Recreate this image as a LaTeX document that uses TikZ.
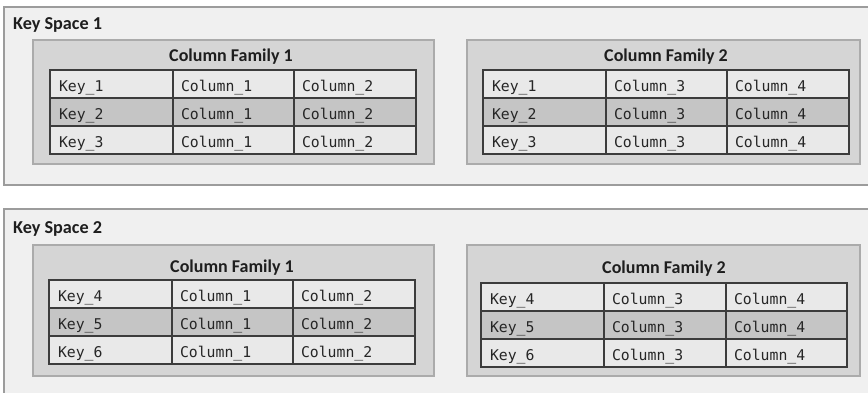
\documentclass[tikz,border=0pt]{standalone}
\usepackage{fontspec}
\setmainfont{Carlito}
\newfontfamily\monof{DejaVu Sans Mono}
\definecolor{ksfill}{HTML}{F0F0F0}
\definecolor{ksdraw}{HTML}{9C9C9C}
\definecolor{cffill}{HTML}{D5D5D5}
\definecolor{cfdraw}{HTML}{ABABAB}
\definecolor{rowlight}{HTML}{E9E9E9}
\definecolor{rowdark}{HTML}{C5C5C5}
\definecolor{gridline}{HTML}{3C3C3C}
\definecolor{txt}{HTML}{1E1E1E}
\definecolor{celltxt}{HTML}{262626}
\tikzset{
  ks/.style={draw=ksdraw, fill=ksfill, line width=1.2pt, inner sep=0, outer sep=0, anchor=north west},
  cf/.style={draw=cfdraw, fill=cffill, line width=1.2pt, inner sep=0, outer sep=0, anchor=north west},
  cell/.style={draw=gridline, line width=1.3pt, inner sep=0, outer sep=0, minimum height=28, anchor=north west},
  celltext/.style={inner sep=0, outer sep=0, anchor=base west, text=celltxt, font=\monof\fontsize{14.8}{16}\selectfont},
  kslabel/.style={inner sep=0, anchor=base west, text=txt, font=\bfseries\fontsize{18.2}{20}\selectfont},
  cftitle/.style={inner sep=0, anchor=base, text=txt, font=\bfseries\fontsize{18}{20}\selectfont}
}
% #1 prefix, #2 left, #3 divider1, #4 divider2, #5 right, #6 top, #7 first key, #8 col A, #9 col B
\newcommand{\kvtab}[9]{%
  \foreach \r in {0,1,2}{%
    \pgfmathtruncatemacro{\kn}{#7+\r}%
    \pgfmathsetmacro{\yy}{#6+28*\r}%
    \ifnum\r=1 \def\rowfill{rowdark}\else\def\rowfill{rowlight}\fi
    \node[cell, fill=\rowfill, minimum width={#3-#2}] (#1a\r) at (#2,\yy) {};
    \node[cell, fill=\rowfill, minimum width={#4-#3}] (#1b\r) at (#3,\yy) {};
    \node[cell, fill=\rowfill, minimum width={#5-#4}] (#1c\r) at (#4,\yy) {};
    \node[celltext] (#1ta\r) at ([xshift=9pt,yshift=-7pt]#1a\r.west) {Key\_\kn};
    \node[celltext] (#1tb\r) at ([xshift=8pt,yshift=-7pt]#1b\r.west) {Column\_#8};
    \node[celltext] (#1tc\r) at ([xshift=8pt,yshift=-7pt]#1c\r.west) {Column\_#9};
  }}
\begin{document}
\begin{tikzpicture}[x=1pt,y=-1pt]
\clip (0,0) rectangle (868,392);
\fill[white] (0,0) rectangle (868,392);
% Key Space 1
\node[ks, minimum width=870, minimum height=178] (ks1) at (4,7) {};
\node[kslabel] (ks1l) at (13,29) {Key Space 1};
\node[cf, minimum width=401, minimum height=124] (cf11) at (33,40) {};
\node[cftitle] (cf11t) at (231,61) {Column Family 1};
\kvtab{p}{50}{173}{294}{416}{70}{1}{1}{2}
\node[cf, minimum width=393, minimum height=124] (cf12) at (467,40) {};
\node[cftitle] (cf12t) at (666,61) {Column Family 2};
\kvtab{q}{483}{606}{727}{849}{70}{1}{3}{4}
% Key Space 2
\node[ks, minimum width=870, minimum height=200] (ks2) at (4,209) {};
\node[kslabel] (ks2l) at (13,233) {Key Space 2};
\node[cf, minimum width=401, minimum height=131] (cf21) at (33,245) {};
\node[cftitle] (cf21t) at (232,272) {Column Family 1};
\kvtab{r}{49}{172}{293}{415}{280}{4}{1}{2}
\node[cf, minimum width=393, minimum height=131] (cf22) at (467,245) {};
\node[cftitle] (cf22t) at (664,273) {Column Family 2};
\kvtab{s}{481}{604}{726}{847}{283}{4}{3}{4}
\end{tikzpicture}
\end{document}
